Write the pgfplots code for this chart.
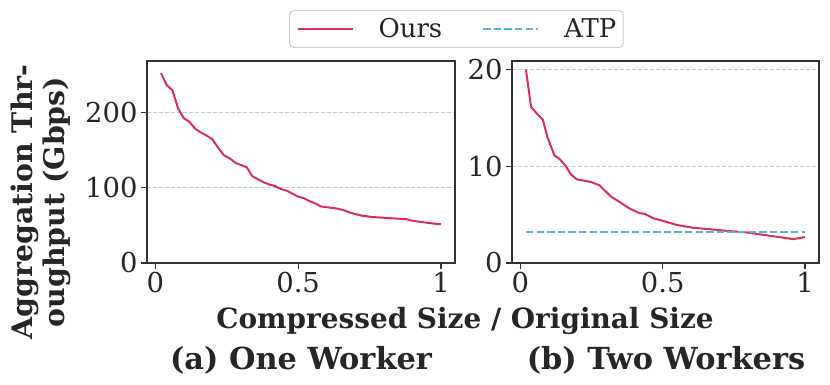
\documentclass[border=0pt]{standalone}
\usepackage{fontspec}
\setmainfont{DejaVu Serif}
\usepackage{pgfplots}
\pgfplotsset{compat=1.18}
\definecolor{oursred}{HTML}{D7305C}
\definecolor{atpblue}{HTML}{5AB0DE}
\definecolor{axgray}{HTML}{333333}
\definecolor{txtgray}{HTML}{262626}
\newcommand\tickfont{\fontsize{27.5}{32}\selectfont}
\newcommand\labfont{\fontsize{28}{32}\selectfont\bfseries}
\newcommand\legfont{\fontsize{26}{30}\selectfont}

\pgfplotsset{panel/.style={
  scale only axis, width=308bp, height=202bp,
  xmin=-0.029, xmax=1.049, ymin=0,
  xtick={0,0.5,1}, xticklabels={0,0.5,1},
  tick align=outside, major tick length=6bp,
  xtick pos=left, ytick pos=left,
  axis line style={axgray, line width=1.3bp},
  every tick/.style={axgray, line width=1.2bp},
  ymajorgrids,
  major grid style={black!22, line width=0.9bp, dash pattern=on 4bp off 2bp},
  tick label style={font=\tickfont, text=txtgray},
  /pgf/number format/assume math mode=true,
}}

\begin{document}
\begin{tikzpicture}
\useasboundingbox (0,0) rectangle (830bp,385bp);

% (a) one worker
\begin{axis}[panel, at={(147bp,122bp)}, anchor=south west,
  ymax=268, ytick={0,100,200}]
\addplot[oursred, line width=2bp] coordinates {
(0.02,252)(0.04,236)(0.06,229)(0.08,205)(0.10,192)(0.12,187)(0.14,178)
(0.16,173)(0.18,169)(0.20,164)(0.22,153)(0.24,143)(0.26,139)(0.28,133)
(0.30,130)(0.32,127)(0.34,115)(0.36,111)(0.38,107)(0.40,104)(0.42,102)
(0.44,98)(0.46,96)(0.48,92)(0.50,88)(0.52,86)(0.54,82)(0.56,79)(0.58,75)
(0.60,74)(0.62,73)(0.64,72)(0.66,70)(0.68,67)(0.70,65)(0.72,63)(0.74,62)
(0.76,61)(0.78,60.5)(0.80,60)(0.82,59.5)(0.84,59)(0.86,58.5)(0.88,58)
(0.90,56)(0.92,55)(0.94,54)(0.96,53)(0.98,52)(1.00,51.6)};
\end{axis}

% (b) two workers
\begin{axis}[panel, at={(512bp,122bp)}, anchor=south west,
  width=307bp, ymax=20.9, ytick={0,10,20},
  legend columns=2,
  legend image code/.code={\draw[#1] (0bp,0bp) -- (55bp,0bp);},
  legend style={at={(-0.181,1.158)}, anchor=center,
    draw=black!20, rounded corners=4bp, line width=1bp,
    font=\legfont, text=txtgray,
    inner xsep=7bp, inner ysep=8bp,
    nodes={inner sep=0pt},
    /tikz/every odd column/.append style={column sep=25bp},
    /tikz/every even column/.append style={column sep=40bp}}]
\addplot[oursred, line width=2bp] coordinates {
(0.02,20.0)(0.038,16.15)(0.057,15.5)(0.079,14.85)(0.096,12.96)(0.12,11.13)
(0.137,10.8)(0.158,10.1)(0.178,9.17)(0.198,8.66)(0.249,8.38)(0.278,8.04)
(0.319,6.87)(0.343,6.42)(0.384,5.64)(0.419,5.15)(0.437,5.09)(0.466,4.64)
(0.501,4.36)(0.548,3.95)(0.607,3.64)(0.665,3.5)(0.724,3.33)(0.795,3.16)
(0.842,2.96)(0.9,2.72)(0.959,2.47)(1.0,2.68)};
\addlegendentry{Ours}
\addplot[atpblue, line width=2bp, dash pattern=on 7.4bp off 3.2bp] coordinates {
(0.02,3.16)(1.0,3.16)};
\addlegendentry{ATP}
\end{axis}

\node[rotate=90, align=center, font=\fontsize{28.5}{32}\selectfont\bfseries, text=txtgray]
  at (41bp,183bp) {Aggregation Thr-\\oughput (Gbps)};
\node[font=\labfont, text=txtgray] at (465bp,64bp) {Compressed Size / Original Size};
\node[font=\fontsize{30.5}{34}\selectfont\bfseries, text=txtgray] at (301bp,25bp) {(a) One Worker};
\node[font=\fontsize{30.5}{34}\selectfont\bfseries, text=txtgray] at (666bp,25bp) {(b) Two Workers};
\end{tikzpicture}
\end{document}
